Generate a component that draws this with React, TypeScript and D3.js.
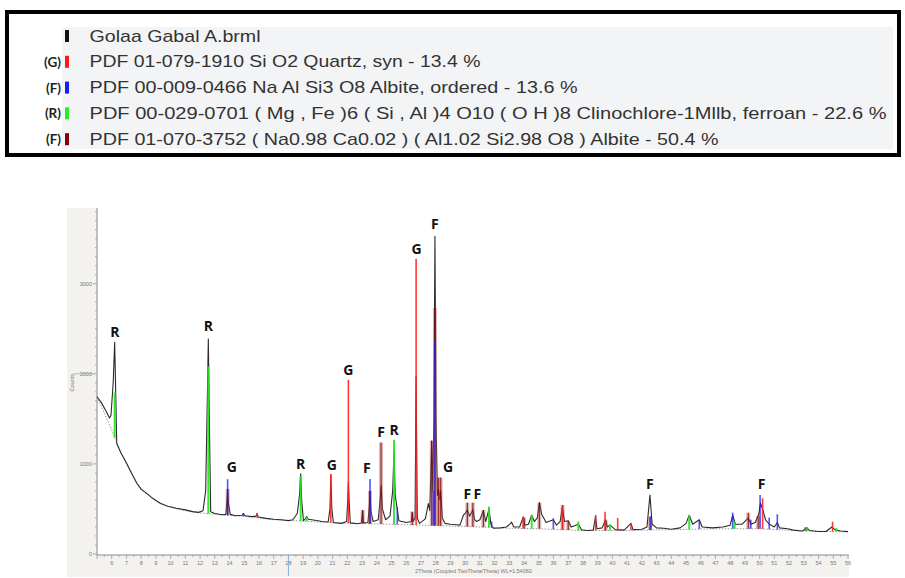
import React from "react";
import * as d3 from "d3";

// ---------------- DATA ----------------
const legendNames = [
  "Golaa Gabal A.brml",
  "PDF 01-079-1910 Si O2 Quartz, syn - 13.4 %",
  "PDF 00-009-0466 Na Al Si3 O8 Albite, ordered - 13.6 %",
  "PDF 00-029-0701 ( Mg , Fe )6 ( Si , Al )4 O10 ( O H )8 Clinochlore-1Mllb, ferroan - 22.6 %",
  "PDF 01-070-3752 ( Na0.98 Ca0.02 ) ( Al1.02 Si2.98 O8 ) Albite - 50.4 %",
];
const legendTags = ["", "(G)", "(F)", "(R)", "(F)"];
const legendColors = ["#111111", "#ff1a1a", "#1a1aff", "#22ee22", "#8b0000"];
const legendTextWidths = [171, 391, 488, 797, 629];

const xTicks = d3.range(6, 57, 1);
const yTicks = [0, 1000, 2000, 3000];

// measured scan (2theta, counts)
const scanPoints: [number, number][] = [
  [5.0, 1745], [5.3, 1680], [5.6, 1590], [5.85, 1510], [5.95, 1540], [6.1, 1900], [6.2, 2350],
  [6.27, 1800], [6.34, 1230], [6.6, 1130], [7.0, 1010], [7.4, 880], [7.7, 785], [8.0, 720],
  [8.4, 670], [8.8, 615], [9.3, 563], [9.8, 530], [10.4, 508], [11.0, 490], [11.5, 470],
  [11.9, 462], [12.2, 480], [12.38, 700], [12.5, 1800], [12.56, 2385], [12.62, 1600], [12.72, 470],
  [13.0, 450], [13.5, 435], [13.75, 440], [13.83, 600], [13.87, 720], [13.93, 560], [14.05, 440],
  [14.4, 425], [14.85, 430], [14.94, 450], [15.05, 425], [15.5, 415], [15.8, 420], [15.87, 450],
  [15.95, 410], [16.5, 395], [17.0, 385], [17.5, 380], [18.0, 370], [18.3, 380], [18.6, 450],
  [18.75, 650], [18.83, 890], [18.9, 600], [19.02, 370], [19.15, 390], [19.24, 415], [19.35, 385],
  [19.8, 375], [20.3, 360], [20.7, 355], [20.82, 500], [20.88, 880], [20.95, 500], [21.05, 350],
  [21.6, 340], [21.95, 360], [22.03, 600], [22.07, 800], [22.12, 600], [22.2, 345], [22.7, 335],
  [22.95, 345], [23.04, 480], [23.1, 345], [23.4, 350], [23.5, 550], [23.54, 700], [23.6, 480],
  [23.75, 360], [24.1, 380], [24.25, 650], [24.3, 760], [24.38, 500], [24.6, 380], [24.9, 420],
  [25.08, 700], [25.17, 1150], [25.25, 650], [25.39, 500], [25.5, 370], [26.0, 350], [26.35, 360],
  [26.41, 460], [26.47, 360], [26.6, 400], [26.67, 1970], [26.75, 400], [26.9, 340], [27.3, 390],
  [27.5, 560], [27.6, 480], [27.73, 1250], [27.8, 700], [27.88, 1500], [27.95, 3526], [28.02, 1500],
  [28.12, 650], [28.2, 710], [28.28, 600], [28.34, 700], [28.45, 400], [28.63, 340], [29.0, 330],
  [29.4, 325], [29.65, 320], [29.88, 430], [30.0, 450], [30.15, 490], [30.3, 420], [30.52, 490],
  [30.65, 380], [30.78, 360], [31.0, 380], [31.24, 480], [31.4, 360], [31.62, 500], [31.75, 330],
  [31.92, 285], [32.4, 290], [32.8, 300], [33.1, 340], [33.15, 355], [33.3, 300], [33.7, 300],
  [33.95, 410], [34.05, 320], [34.3, 330], [34.52, 430], [34.7, 360], [34.9, 400], [35.05, 570],
  [35.2, 440], [35.5, 350], [35.99, 380], [36.2, 320], [36.45, 360], [36.6, 520], [36.75, 360],
  [37.0, 370], [37.2, 300], [37.69, 330], [37.9, 270], [38.3, 260], [38.7, 265], [38.86, 420],
  [38.95, 280], [39.3, 290], [39.54, 380], [39.65, 300], [39.84, 320], [40.2, 270], [40.8, 265],
  [41.26, 340], [41.4, 270], [42.0, 275], [42.35, 300], [42.55, 655], [42.7, 330], [43.0, 290],
  [43.5, 285], [44.0, 275], [44.6, 290], [45.0, 340], [45.22, 430], [45.45, 330], [45.9, 380],
  [46.1, 300], [46.8, 290], [47.5, 300], [48.0, 320], [48.17, 430], [48.35, 330], [48.8, 330],
  [49.23, 400], [49.4, 330], [49.7, 350], [49.95, 450], [50.05, 565], [50.2, 500], [50.4, 380],
  [50.65, 330], [51.0, 300], [51.2, 350], [51.35, 290], [51.9, 280], [52.3, 265], [52.9, 255],
  [53.2, 290], [53.4, 260], [54.0, 250], [54.5, 250], [54.9, 300], [55.1, 270], [55.5, 255],
  [56.0, 248],
];

// fitted background (dotted)
const backgroundPoints: [number, number][] = [
  [5.0, 1745], [5.5, 1560], [6.0, 1380], [6.34, 1230], [7, 1000], [8, 710], [9.3, 555],
  [10.4, 500], [11.5, 465], [13, 440], [15, 418], [17, 380], [19, 365], [21, 345], [23, 338],
  [25, 330], [27, 320], [29, 310], [31, 300], [33, 285], [35, 280], [38, 260], [41, 262],
  [44, 270], [47, 280], [50, 280], [53, 255], [56, 245],
];

// phase sticks (2theta, top counts)
const quartzSticks: [number, number][] = [
  [15.87, 450], [20.88, 889], [22.07, 1933], [26.67, 3278], [33.95, 415], [36.6, 520],
  [38.86, 433], [39.5, 470], [40.36, 400], [41.26, 341], [50.2, 619], [54.95, 359],
];
const albiteOrderedSticks: [number, number][] = [
  [13.87, 830], [14.94, 450], [23.54, 833], [25.39, 522], [27.84, 700], [27.95, 2359],
  [31.8, 360], [35.99, 396], [42.62, 420], [45.9, 380], [48.17, 459], [49.4, 380],
  [50.03, 655], [50.65, 404], [51.2, 441],
];
const clinochloreSticks: [number, number][] = [
  [6.2, 1792], [12.56, 2081], [18.83, 870], [19.24, 415], [25.17, 1267], [31.62, 526],
  [34.52, 433], [37.69, 360], [39.84, 330], [45.22, 433], [48.3, 360], [53.2, 300], [55.2, 290],
];
const albiteSticks: [number, number][] = [
  [13.87, 720], [23.04, 489], [23.54, 700], [24.29, 1237], [26.41, 470], [27.73, 1259],
  [27.95, 2730], [28.18, 848], [28.34, 848], [30.15, 570], [30.52, 570], [31.24, 489],
  [34.0, 404], [35.04, 570], [36.62, 544], [37.0, 367], [39.54, 380], [42.55, 415],
  [49.23, 459], [49.9, 420], [53.15, 300],
];

// peak letters (2theta, counts at label centre, letter)
const peakLabels: [number, number, string][] = [
  [6.22, 2470, "R"], [12.56, 2533, "R"], [14.15, 970, "G"], [18.83, 1008, "R"],
  [20.94, 989, "G"], [22.07, 2052, "G"], [23.32, 959, "F"], [24.29, 1359, "F"],
  [25.17, 1385, "R"], [26.71, 3385, "G"], [27.95, 3663, "F"], [28.84, 967, "G"],
  [30.15, 674, "F"], [30.83, 674, "F"], [42.55, 785, "F"], [50.14, 785, "F"],
];

// ---------------- CHART ----------------
const W = 905;
const H = 578;

export default function App() {
  const x = d3.scaleLinear().domain([5, 56]).range([97, 848]);
  const y = d3.scaleLinear().domain([0, 3840]).range([554, 208]);
  const bg = d3
    .scaleLinear()
    .domain(backgroundPoints.map((d) => d[0]))
    .range(backgroundPoints.map((d) => d[1]))
    .clamp(true);

  const line = d3
    .line<[number, number]>()
    .x((d) => x(d[0]))
    .y((d) => y(d[1]));

  const minorX = d3.range(5, 56.01, 0.5);
  const minorY = d3.range(0, 3801, 100);

  const stickSet = (
    data: [number, number][],
    color: string,
    width: number,
    opacity: number,
    key: string
  ) =>
    data.map((d, i) => (
      <line
        key={key + i}
        x1={x(d[0])}
        x2={x(d[0])}
        y1={y(bg(d[0]))}
        y2={y(d[1])}
        stroke={color}
        strokeWidth={width}
        strokeOpacity={opacity}
      />
    ));

  const rowY = (i: number) => 36 + i * 25.8;

  return (
    <svg
      width={W}
      height={H}
      style={{ position: "absolute", left: 0, top: 0, background: "#fff" }}
      fontFamily="'Liberation Sans', Arial, sans-serif"
    >
      {/* ---------- legend box ---------- */}
      <rect x={62} y={27} width={831} height={122} fill="#f3f4f6" />
      <rect x={7} y={12} width={892} height={143} fill="none" stroke="#000" strokeWidth={4} />
      {legendNames.map((name, i) => (
        <g key={"lg" + i}>
          {legendTags[i] && (
            <text
              x={61}
              y={rowY(i)}
              textAnchor="end"
              dominantBaseline="central"
              fontSize={13.5}
              fontWeight="bold"
              fontFamily="Lato, 'Open Sans', sans-serif"
              fill="#222"
            >
              {legendTags[i]}
            </text>
          )}
          <rect x={65} y={rowY(i) - 6} width={4} height={12} fill={legendColors[i]} />
          <text
            x={89.5}
            y={rowY(i)}
            dominantBaseline="central"
            fontSize={17}
            fill="#333"
            textLength={legendTextWidths[i]}
            lengthAdjust="spacingAndGlyphs"
          >
            {name}
          </text>
        </g>
      ))}

      {/* ---------- chart panel ---------- */}
      <rect x={67} y={208} width={782} height={369} fill="#f3f2ef" />
      <rect x={97} y={208} width={752} height={347} fill="#ffffff" />

      {/* y axis */}
      <line x1={97} x2={97} y1={208} y2={555} stroke="#8a8a8a" strokeWidth={1} />
      {minorY.map((v) => (
        <line
          key={"my" + v}
          x1={v % 1000 === 0 ? 93 : 95}
          x2={97}
          y1={y(v)}
          y2={y(v)}
          stroke="#9a9a9a"
          strokeWidth={0.8}
        />
      ))}
      {yTicks.map((v) => (
        <text
          key={"yt" + v}
          x={92}
          y={y(v)}
          textAnchor="end"
          dominantBaseline="central"
          fontSize={5.5}
          fill="#777"
        >
          {v}
        </text>
      ))}
      <line x1={73} x2={95} y1={y(2000)} y2={y(2000)} stroke="#8ab0e0" strokeWidth={0.8} />
      <text
        transform={`translate(74,${y(1900)}) rotate(-90)`}
        textAnchor="middle"
        fontSize={5.5}
        fill="#777"
      >
        Counts
      </text>

      {/* x axis */}
      <line x1={97} x2={849} y1={555} y2={555} stroke="#8a8a8a" strokeWidth={1} />
      {minorX.map((v) => (
        <line
          key={"mx" + v}
          x1={x(v)}
          x2={x(v)}
          y1={555}
          y2={Number.isInteger(v) ? 559 : 557}
          stroke="#9a9a9a"
          strokeWidth={0.8}
        />
      ))}
      {xTicks.map((v) => (
        <text
          key={"xt" + v}
          x={x(v)}
          y={563}
          textAnchor="middle"
          dominantBaseline="central"
          fontSize={5.5}
          fill="#777"
        >
          {v}
        </text>
      ))}
      <line x1={x(18)} x2={x(18)} y1={556} y2={576} stroke="#8ab0e0" strokeWidth={1} />
      <text x={415} y={573} fontSize={5.5} fill="#777">
        2Theta (Coupled TwoTheta/Theta) WL=1.54060
      </text>

      {/* background (dotted) */}
      <path
        d={line(backgroundPoints) || ""}
        fill="none"
        stroke="#999"
        strokeWidth={1}
        strokeDasharray="1.5,1.5"
      />

      {/* measured scan */}
      <path
        d={line(scanPoints) || ""}
        fill="none"
        stroke="#2b2b2b"
        strokeWidth={1.1}
        strokeLinejoin="round"
      />

      {/* sticks */}
      {stickSet(albiteSticks, "#b04848", 4, 0.4, "ab")}
      {stickSet(albiteSticks, "#7a0000", 1.2, 0.75, "abc")}
      {stickSet(clinochloreSticks, "#1ee61e", 2, 0.9, "cl")}
      {stickSet(quartzSticks, "#ff2424", 1.6, 0.9, "qz")}
      {stickSet(albiteOrderedSticks, "#1a1aff", 1.6, 0.75, "ao")}

      {/* peak labels */}
      {peakLabels.map((d, i) => (
        <text
          key={"pl" + i}
          x={x(d[0])}
          y={y(d[1])}
          textAnchor="middle"
          dominantBaseline="central"
          fontSize={14}
          fontWeight="bold"
          fontFamily="'Open Sans', Lato, sans-serif"
          fill="#111"
        >
          {d[2]}
        </text>
      ))}
    </svg>
  );
}
